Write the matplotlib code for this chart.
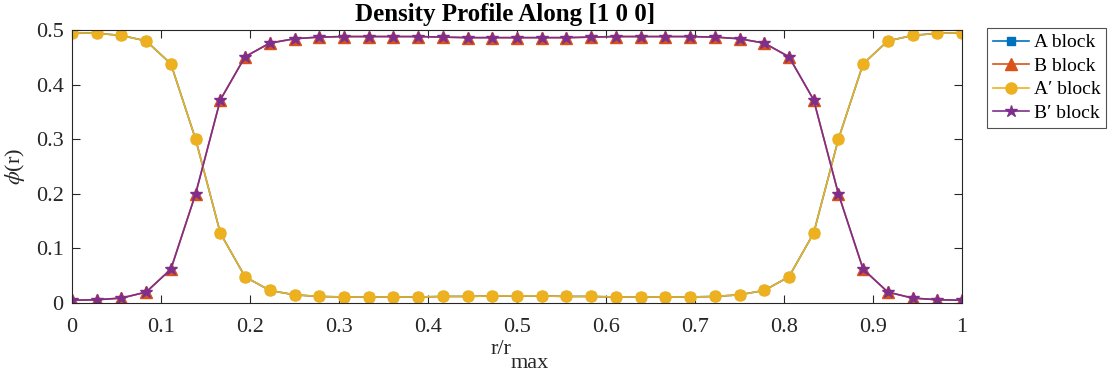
import matplotlib
matplotlib.use("Agg")
import matplotlib.pyplot as plt
import numpy as np

plt.rcParams['font.family'] = ['Liberation Serif', 'DejaVu Serif']
plt.rcParams['mathtext.fontset'] = 'stix'

x = [i / 36 for i in range(37)]
A = [0.495, 0.494, 0.490, 0.480, 0.438, 0.300, 0.128, 0.048, 0.023, 0.015,
     0.012, 0.011, 0.011, 0.011, 0.011, 0.012, 0.012, 0.013, 0.013, 0.013,
     0.012, 0.012, 0.011, 0.011, 0.011, 0.011, 0.012, 0.015, 0.023, 0.048,
     0.128, 0.300, 0.438, 0.480, 0.490, 0.494, 0.495]
B = [0.005, 0.006, 0.009, 0.020, 0.062, 0.200, 0.372, 0.451, 0.476, 0.484,
     0.487, 0.488, 0.488, 0.488, 0.488, 0.487, 0.486, 0.486, 0.486, 0.486,
     0.486, 0.487, 0.488, 0.488, 0.488, 0.488, 0.487, 0.484, 0.476, 0.451,
     0.372, 0.200, 0.062, 0.020, 0.009, 0.006, 0.005]
Ap = A
Bp = B

labels = ['A block', 'B block', "A\u2032 block", "B\u2032 block"]
colors = ['#0072BD', '#D95319', '#EDB120', '#7E2F8E']
markers = ['s', '^', 'o', '*']
sizes = [6, 8, 8, 9]

fig = plt.figure(figsize=(11.13, 3.78), dpi=100)
ax = fig.add_axes([72/1113, 1 - 303/378, (962-72)/1113, (303-30)/378])

for y, lab, c, m, s in zip([A, B, Ap, Bp], labels, colors, markers, sizes):
    ax.plot(x, y, color=c, marker=m, markersize=s, linewidth=1.2, label=lab)

ax.set_xlim(0, 1)
ax.set_ylim(0, 0.5)
ax.set_xticks(np.arange(0, 1.01, 0.1))
ax.set_xticklabels(['0', '0.1', '0.2', '0.3', '0.4', '0.5', '0.6', '0.7', '0.8', '0.9', '1'])
ax.set_yticks(np.arange(0, 0.51, 0.1))
ax.set_yticklabels(['0', '0.1', '0.2', '0.3', '0.4', '0.5'])
ax.tick_params(direction='in', top=True, right=True, labelsize=16, colors='#262626',
               length=6, width=0.8)
ax.tick_params(axis='x', pad=11)
ax.tick_params(axis='y', pad=6)
for sp in ax.spines.values():
    sp.set_color('#262626')
    sp.set_linewidth(0.8)

# x label: "r/r" with a lowered "max" subscript (MATLAB TeX style)
fig.text(511/1113, 1 - 350/378, 'r/r', ha='right', va='center', fontsize=16, color='#262626')
fig.text(511/1113, 1 - 364/378, 'max', ha='left', va='center', fontsize=16, color='#262626')
ax.set_ylabel(r'$\phi$(r)', fontsize=16, color='#262626', labelpad=6)
fig.text(505/1113, 1 - 14/378, 'Density Profile Along [1 0 0]', ha='center', va='center',
         fontsize=18, fontweight='bold', color='black')

leg = fig.legend(loc='upper left', bbox_to_anchor=(987/1113, 1 - 28/378),
                 fontsize=14, frameon=True, fancybox=False, edgecolor='#262626',
                 handlelength=1.85, handletextpad=0.25, borderpad=0.3, labelspacing=0.3,
                 borderaxespad=0)
leg.get_frame().set_linewidth(0.8)

fig.savefig('out.png', dpi=100)
